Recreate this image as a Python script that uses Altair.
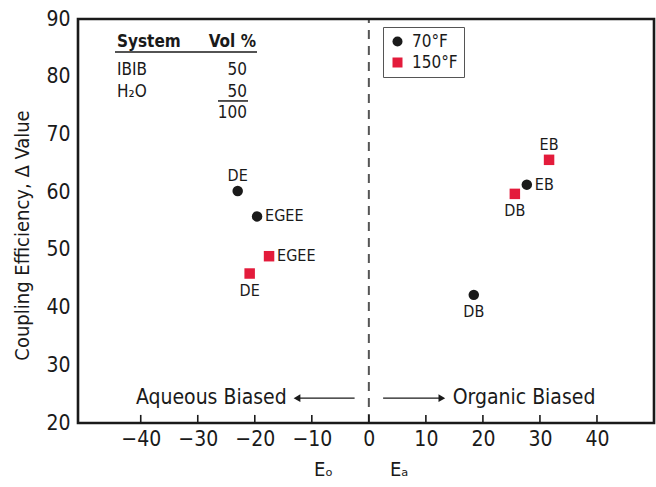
import altair as alt
import pandas as pd

FONT = "DejaVu Sans Condensed, Roboto, sans-serif"
RED = "#e31b3b"
INK = "#1a1a1a"

# Measured coupling efficiencies
series = ["70°F", "70°F", "70°F", "70°F", "150°F", "150°F", "150°F", "150°F"]
systems = ["DE", "EGEE", "DB", "EB", "DE", "EGEE", "DB", "EB"]
bias_x = [-23.0, -19.6, 18.4, 27.7, -20.9, -17.5, 25.6, 31.6]
delta_value = [60.2, 55.8, 42.2, 61.3, 45.9, 48.9, 59.7, 65.6]
label_side = ["above", "right", "below", "right", "below", "right", "below", "above"]

points = pd.DataFrame({
    "series": series, "system": systems, "x": bias_x, "y": delta_value, "side": label_side,
})

x_domain = [-51, 50]
y_domain = [20, 90]
x_ticks = [-40, -30, -20, -10, 0, 10, 20, 30, 40]

# Composition table (System / Vol %)
table_left = ["System", "IBIB", "H₂O"]
table_left_y = [86.0, 81.2, 77.35]
table_right = ["Vol %", "50", "50", "100"]
table_right_y = [86.0, 81.2, 77.35, 73.7]

xs = alt.Scale(domain=x_domain, nice=False, zero=False)
ys = alt.Scale(domain=y_domain, nice=False, zero=False)

base = alt.Chart(points)

legend = alt.Legend(title=None, orient="none", legendX=305, legendY=8,
                    strokeColor="#555", padding=6, labelFontSize=17,
                    labelFont=FONT, labelColor=INK, symbolSize=100, rowPadding=3,
                    labelOffset=6, symbolStrokeWidth=0)
color = alt.Color("series:N", scale=alt.Scale(domain=["70°F", "150°F"], range=[INK, RED]),
                  legend=legend)
shape = alt.Shape("series:N", scale=alt.Scale(domain=["70°F", "150°F"], range=["circle", "square"]),
                  legend=legend)

pts = base.mark_point(filled=True, size=110, opacity=1).encode(
    x=alt.X("x:Q", scale=xs, axis=alt.Axis(values=x_ticks, grid=False, domain=False, ticks=False,
                                           labelFontSize=21, labelFont=FONT, labelColor=INK,
                                           labelPadding=5, title=None)),
    y=alt.Y("y:Q", scale=ys, axis=alt.Axis(values=list(range(20, 91, 10)), grid=False, domain=False,
                                           ticks=False, labelFontSize=21, labelFont=FONT,
                                           labelColor=INK, labelPadding=8,
                                           title="Coupling Efficiency, Δ Value", titleFont=FONT,
                                           titleFontSize=20, titleFontWeight="normal",
                                           titleColor=INK, titleX=-56, titleY=216,
                                           titleAngle=-90, titleAlign="center",
                                           titleBaseline="middle")),
    color=color,
    shape=shape,
)

lab_kw = dict(font=FONT, fontSize=16, color=INK)
lab_above = base.transform_filter("datum.side == 'above'").mark_text(dy=-15, **lab_kw).encode(
    x="x:Q", y="y:Q", text="system:N")
lab_below = base.transform_filter("datum.side == 'below'").mark_text(dy=17, **lab_kw).encode(
    x="x:Q", y="y:Q", text="system:N")
lab_right = base.transform_filter("datum.side == 'right'").mark_text(dx=8, align="left", **lab_kw).encode(
    x="x:Q", y="y:Q", text="system:N")

# Frame around the plotting area
frame = alt.Chart(pd.DataFrame({"x0": [x_domain[0]], "x1": [x_domain[1]],
                                "y0": [y_domain[0]], "y1": [y_domain[1]]})).mark_rect(
    fill="transparent", stroke=INK, strokeWidth=2.6).encode(
    x=alt.X("x0:Q", scale=xs), x2="x1:Q", y=alt.Y("y0:Q", scale=ys), y2="y1:Q")

# Inward tick marks along the bottom frame
tick_df = pd.DataFrame({"t": x_ticks, "y0": [20.0] * len(x_ticks), "y1": [21.4] * len(x_ticks)})
ticks = alt.Chart(tick_df).mark_rule(color=INK, strokeWidth=1.6).encode(
    x=alt.X("t:Q", scale=xs), y=alt.Y("y0:Q", scale=ys), y2=alt.Y2("y1:Q"))

# Dashed divider at zero
divider = alt.Chart(pd.DataFrame({"x": [0], "y0": [20], "y1": [90]})).mark_rule(
    color="#555", strokeWidth=2, strokeDash=[9, 7]).encode(
    x=alt.X("x:Q", scale=xs), y=alt.Y("y0:Q", scale=ys), y2="y1:Q")

# Bias arrows
arrows = pd.DataFrame({"x0": [-2.5, 2.5], "x1": [-12.6, 12.8], "y": [24.3, 24.3]})
arrow_lines = alt.Chart(arrows).mark_rule(color=INK, strokeWidth=1.3).encode(
    x=alt.X("x0:Q", scale=xs), x2="x1:Q", y=alt.Y("y:Q", scale=ys))
head_left = alt.Chart(arrows.iloc[:1]).mark_point(
    shape="triangle-left", filled=True, size=60, color=INK, opacity=1).encode(
    x=alt.X("x1:Q", scale=xs), y=alt.Y("y:Q", scale=ys))
head_right = alt.Chart(arrows.iloc[1:]).mark_point(
    shape="triangle-right", filled=True, size=60, color=INK, opacity=1).encode(
    x=alt.X("x1:Q", scale=xs), y=alt.Y("y:Q", scale=ys))

bias_text = pd.DataFrame({"x": [-14.4, 14.7], "y": [24.3, 24.3],
                          "t": ["Aqueous Biased", "Organic Biased"]})
bias_left = alt.Chart(bias_text.iloc[:1]).mark_text(
    align="right", font=FONT, fontSize=21, color=INK).encode(
    x=alt.X("x:Q", scale=xs), y=alt.Y("y:Q", scale=ys), text="t:N")
bias_right = alt.Chart(bias_text.iloc[1:]).mark_text(
    align="left", font=FONT, fontSize=21, color=INK).encode(
    x=alt.X("x:Q", scale=xs), y=alt.Y("y:Q", scale=ys), text="t:N")

# Composition table
tl = pd.DataFrame({"t": table_left, "y": table_left_y})
tr = pd.DataFrame({"t": table_right, "y": table_right_y})
tbl_head_left = alt.Chart(tl.iloc[:1]).mark_text(align="left", font=FONT, fontSize=17,
                                                 fontWeight="bold", color=INK).encode(
    x=alt.value(117 - 78), y=alt.Y("y:Q", scale=ys), text="t:N")
tbl_rows_left = alt.Chart(tl.iloc[1:]).mark_text(align="left", font=FONT, fontSize=17,
                                                 color=INK).encode(
    x=alt.value(117 - 78), y=alt.Y("y:Q", scale=ys), text="t:N")
tbl_head_right = alt.Chart(tr.iloc[:1]).mark_text(align="right", font=FONT, fontSize=17,
                                                  fontWeight="bold", color=INK).encode(
    x=alt.value(256 - 78), y=alt.Y("y:Q", scale=ys), text="t:N")
tbl_rows_right = alt.Chart(tr.iloc[1:]).mark_text(align="right", font=FONT, fontSize=17,
                                                  color=INK).encode(
    x=alt.value(247 - 78), y=alt.Y("y:Q", scale=ys), text="t:N")
rules = pd.DataFrame({"y": [84.3, 75.8], "x0": [115 - 78, 218 - 78], "x1": [257 - 78, 248 - 78]})
table_rules = alt.Chart(rules).mark_rule(color=INK, strokeWidth=1.5).encode(
    y=alt.Y("y:Q", scale=ys), x=alt.X("x0:Q", scale=None), x2="x1:Q")

# Axis symbols E_o and E_a below the x axis
esym = pd.DataFrame({"x": [-9.6, 3.7], "t": ["Eₒ", "Eₐ"]})
e_text = alt.Chart(esym).mark_text(align="left", baseline="middle", font=FONT, fontSize=20,
                                   color=INK).encode(
    x=alt.X("x:Q", scale=xs), y=alt.value(451), text="t:N")

chart = alt.layer(
    divider, ticks, arrow_lines, head_left, head_right, bias_left, bias_right,
    tbl_head_left, tbl_rows_left, tbl_head_right, tbl_rows_right, table_rules,
    e_text, pts, lab_above, lab_below, lab_right, frame,
).properties(
    width=576, height=404,
    padding={"left": 78, "top": 19, "right": 2, "bottom": 64},
    autosize=alt.AutoSizeParams(type="none"),
).configure_view(strokeWidth=0).configure(background="white")

chart.save("out.html", embed_options={"renderer": "svg", "actions": False})
